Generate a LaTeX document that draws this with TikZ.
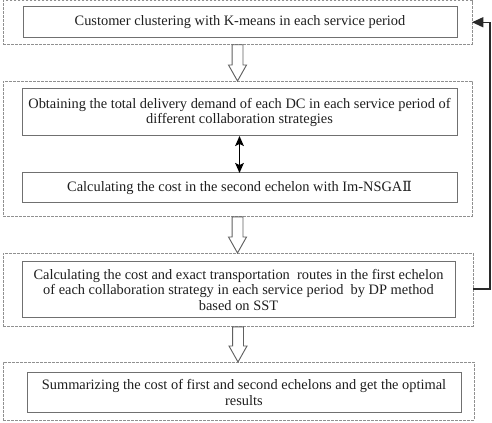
\documentclass[tikz,border=0pt]{standalone}
\usepackage{fontspec}
\setmainfont{Liberation Serif}
\newfontfamily\dvserif{DejaVu Serif}
\usetikzlibrary{calc,arrows.meta}
\definecolor{txt}{HTML}{1E1E1E}
\definecolor{ibox}{HTML}{707070}
\definecolor{obox}{HTML}{909090}
\definecolor{harr}{HTML}{606060}
\definecolor{fbc}{HTML}{2A2A2A}
\begin{document}
\begin{tikzpicture}[x=0.75pt,y=-0.75pt,
  outerbox/.style={draw=obox,line width=0.7pt,dash pattern=on 2pt off 1pt,minimum width=#1,inner sep=0pt,outer sep=0pt},
  innerbox/.style={draw=ibox,line width=0.75pt,inner sep=0pt,outer sep=0pt,align=center,text=txt,
     font=\fontsize{10.8}{11.4}\selectfont},
  hollow/.style={draw=harr,line width=0.7pt,fill=white,line join=miter},
  dbl/.style={black,line width=1pt,{Stealth[length=7.5pt,width=6.5pt,inset=1.5pt]}-{Stealth[length=7.5pt,width=6.5pt,inset=1.5pt]}},
  fb/.style={fbc,line width=1.1pt,-{Triangle[length=8.5pt,width=7.5pt]}}
]
\useasboundingbox (0,0) rectangle (492,423);
% outer dashed boxes
\node[outerbox=351.75pt,minimum height=32.6pt] (o1) at (237.5,22.25) {};
\node[outerbox=351.75pt,minimum height=101.25pt] (o2) at (237.5,148.5) {};
\node[outerbox=352.5pt,minimum height=54.75pt] (o3) at (238,289.5) {};
\node[outerbox=353.25pt,minimum height=43.5pt] (o4) at (238.5,391) {};
% inner boxes
\node[innerbox,minimum width=325.5pt,minimum height=23.25pt] (i1) at (240,22.5)
  {Customer clustering with K-means in each service period};
\node[innerbox,minimum width=326.25pt,minimum height=35.25pt] (i2a) at (239.5,112.5)
  {Obtaining the total delivery demand of each DC in each service period of\\different collaboration strategies};
\node[innerbox,minimum width=326.25pt,minimum height=22.5pt] (i2b) at (239.5,188)
  {Calculating the cost in the second echelon with Im-NSGA{\dvserif\fontsize{10.5}{11}\selectfont Ⅱ}};
\node[innerbox,minimum width=324.75pt,minimum height=42pt] (i3) at (238.5,290)
  {Calculating the cost and exact transportation~ routes in the first echelon\\of each collaboration strategy in each service period~ by DP method\\based on SST};
\node[innerbox,minimum width=325.5pt,minimum height=29.25pt] (i4) at (244,392.5)
  {Summarizing the cost of first and second echelons and get the optimal\\results};
% hollow arrows
\foreach \a/\b in {o1/o2,o2/o3,o3/o4}{
  \draw[hollow] let \p1=(\a.south), \p2=(\b.north) in
    (\x1-4.1pt,\y1-0.6pt) -- (\x1-4.1pt,\y2+12pt) -- (\x1-6.75pt,\y2+12pt) -- (\x1,\y2)
    -- (\x1+6.75pt,\y2+12pt) -- (\x1+4.1pt,\y2+12pt) -- (\x1+4.1pt,\y1-0.6pt) -- cycle;
}
% double arrow
\draw[dbl] (i2a.south) -- (i2b.north);
% feedback
\coordinate (fbx) at (490,0);
\draw[fb] (o3.east |- 0,289) -- (fbx |- 0,289) |- (o1.east);
\end{tikzpicture}
\end{document}
